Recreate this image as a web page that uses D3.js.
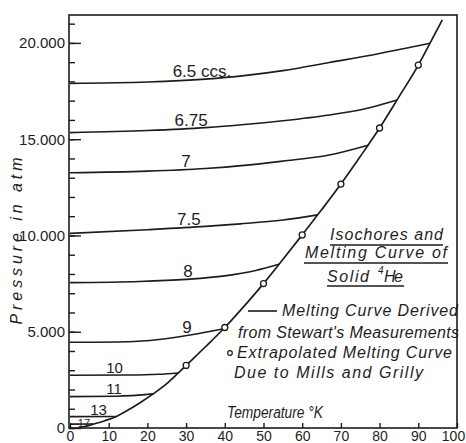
<!DOCTYPE html>
<html>
<head>
<meta charset="utf-8">
<script src="https://cdn.jsdelivr.net/npm/d3@7"></script>
<style>
  html, body { margin: 0; padding: 0; background: #fff; }
  svg { display: block; }
  text { fill: #1e1e1e; font-family: "Liberation Sans", Arial, sans-serif; }
  .ital { font-style: italic; }
</style>
</head>
<body>
<svg id="chart" width="466" height="443"></svg>
<script>
// melting curve (T in K, P in atm)
const meltT = [2, 4, 6, 9, 12, 15, 18, 21.5, 25, 28, 30, 35, 40, 45, 50, 55, 60, 65, 70, 75, 80, 85, 90, 93, 96.2];
const meltP = [0, 90, 200, 380, 600, 930, 1300, 1770, 2300, 2860, 3250, 4220, 5220, 6330, 7500, 8750, 10030, 11330, 12670, 14100, 15580, 17200, 18850, 19980, 21200];

// extrapolated points (Mills and Grilly)
const extraT = [30, 40, 50, 60, 70, 80, 90];
const extraP = [3250, 5220, 7500, 10030, 12670, 15580, 18850];

// isochores, molar volume in ccs
const isoNames = ["6.5 ccs.", "6.75", "7", "7.5", "8", "9", "10", "11", "13", "17"];
const isoT = [
  [0, 20, 35, 45, 55, 67, 80, 93],
  [0, 20, 35, 45, 55, 67, 76, 84.5],
  [0, 20, 35, 45, 55, 67, 77],
  [0, 20, 35, 44, 55, 64],
  [0, 18, 30, 40, 48, 54],
  [0, 15, 23, 31, 39.7],
  [0, 15, 23, 28],
  [0, 12, 21.5],
  [0, 12],
  [0, 6]
];
const isoP = [
  [17900, 17970, 18120, 18300, 18560, 18980, 19450, 19980],
  [15340, 15450, 15600, 15760, 15960, 16260, 16570, 17040],
  [13260, 13340, 13480, 13640, 13860, 14180, 14690],
  [10110, 10300, 10470, 10600, 10800, 11070],
  [7550, 7610, 7720, 7900, 8180, 8500],
  [4450, 4480, 4600, 4830, 5160],
  [2740, 2750, 2790, 2860],
  [1630, 1650, 1770],
  [590, 600],
  [200, 205]
];
// where along each isochore its label sits (K)
const isoLabelT = [34.1, 31.3, 30, 30.7, 30.5, 30.2, 11.5, 11.4, 7.4, 3.6];

const tempTicks = [0, 10, 20, 30, 40, 50, 60, 70, 80, 90, 100];
const pressTicks = [0, 5000, 10000, 15000, 20000];
const pressMinor = d3.range(0, 21001, 1000);

const titleLines = ["Isochores and", "Melting Curve of", "Solid"];
const noteLines = ["Melting Curve Derived", "from Stewart's Measurements", "Extrapolated Melting Curve", "Due to Mills and Grilly"];

const svg = d3.select("#chart");
const ink = "#1c1c1c";

const x = d3.scaleLinear().domain([0, 100]).range([70, 457]);
const y = d3.scaleLinear().domain([0, 21450]).range([428, 15]);

// European thousands separator: 20.000
const fmt = d3.formatLocale({ decimal: ",", thousands: ".", grouping: [3], currency: ["", ""] }).format(",");

// frame
svg.append("rect")
  .attr("x", x(0) - 1).attr("y", y(21450))
  .attr("width", x(100) - x(0) + 1).attr("height", y(0) - y(21450))
  .attr("fill", "none").attr("stroke", ink).attr("stroke-width", 1.6);

// y axis: minor then major ticks pointing inward
svg.append("g")
  .attr("transform", `translate(${x(0) - 1},0)`)
  .call(d3.axisLeft(y).tickValues(pressMinor).tickSize(-6).tickFormat(""))
  .call(g => g.select(".domain").remove())
  .call(g => g.selectAll("line").attr("stroke", ink).attr("stroke-width", 1.4));

svg.append("g")
  .attr("transform", `translate(${x(0) - 1},0)`)
  .call(d3.axisLeft(y).tickValues(pressTicks).tickSize(-12).tickPadding(4).tickFormat(fmt))
  .call(g => g.select(".domain").remove())
  .call(g => g.selectAll("line").attr("stroke", ink).attr("stroke-width", 1.4))
  .call(g => g.selectAll("text")
    .attr("font-size", 15).attr("fill", ink)
    .attr("font-family", "'Liberation Sans', Arial, sans-serif"));

// x axis
svg.append("g")
  .attr("transform", `translate(0,${y(0)})`)
  .call(d3.axisBottom(x).tickValues(tempTicks).tickSize(-5).tickPadding(3).tickFormat(d3.format("d")))
  .call(g => g.select(".domain").remove())
  .call(g => g.selectAll("line").attr("stroke", ink).attr("stroke-width", 1.4))
  .call(g => g.selectAll("text")
    .attr("font-size", 14).attr("fill", ink)
    .attr("font-family", "'Liberation Sans', Arial, sans-serif")
    .attr("dx", d => d === 100 ? -4 : 0));

const line = d3.line()
  .x(d => x(d[0]))
  .y(d => y(d[1]))
  .curve(d3.curveMonotoneX);

// isochores
const isoData = isoNames.map((name, i) => ({
  name: name,
  pts: isoT[i].map((t, j) => [t, isoP[i][j]]),
  labelT: isoLabelT[i]
}));

svg.append("g").selectAll("path")
  .data(isoData)
  .enter().append("path")
  .attr("d", d => line(d.pts))
  .attr("fill", "none").attr("stroke", ink).attr("stroke-width", 1.6);

// labels sit on top of their curve
function pAt(pts, t) {
  for (let k = 1; k < pts.length; k++) {
    if (t <= pts[k][0]) {
      const a = pts[k - 1], b = pts[k];
      return a[1] + (b[1] - a[1]) * (t - a[0]) / (b[0] - a[0]);
    }
  }
  return pts[pts.length - 1][1];
}

svg.append("g").selectAll("text")
  .data(isoData)
  .enter().append("text")
  .attr("x", d => x(d.labelT))
  .attr("y", (d, i) => y(pAt(d.pts, d.labelT)) + (i === 9 ? 3 : -2))
  .attr("text-anchor", "middle")
  .attr("font-size", (d, i) => i < 6 ? 17 : (i < 9 ? 15 : 11))
  .text(d => d.name);

// melting curve
svg.append("path")
  .attr("d", line(meltT.map((t, i) => [t, meltP[i]])))
  .attr("fill", "none").attr("stroke", ink).attr("stroke-width", 1.7);

svg.append("g").selectAll("circle")
  .data(extraT.map((t, i) => [t, extraP[i]]))
  .enter().append("circle")
  .attr("cx", d => x(d[0])).attr("cy", d => y(d[1]))
  .attr("r", 3)
  .attr("fill", "#fff").attr("stroke", ink).attr("stroke-width", 1.3);

// legend title, underlined
const titleBox = [[330, 240, 113], [305, 258, 142], [327, 282, 42]];
const title = svg.append("g").attr("class", "ital").attr("font-size", 16);
titleLines.forEach((t, i) => {
  const b = titleBox[i];
  title.append("text")
    .attr("x", b[0]).attr("y", b[1])
    .attr("textLength", b[2]).attr("lengthAdjust", "spacing")
    .text(t);
});
title.append("text").attr("x", 378).attr("y", 274).attr("font-size", 10).text("4");
title.append("text").attr("x", 384).attr("y", 282).attr("textLength", 19).attr("lengthAdjust", "spacing").text("He");

[[330, 443, 245], [304, 448, 263], [327, 404, 286]].forEach(u => {
  svg.append("line")
    .attr("x1", u[0]).attr("x2", u[1]).attr("y1", u[2]).attr("y2", u[2])
    .attr("stroke", ink).attr("stroke-width", 1.3);
});

// legend notes
const noteBox = [[282, 316, 176], [238, 338, 221], [237, 358, 215], [234, 378, 189]];
const notes = svg.append("g").attr("class", "ital").attr("font-size", 16);
noteLines.forEach((t, i) => {
  const b = noteBox[i];
  notes.append("text")
    .attr("x", b[0]).attr("y", b[1])
    .attr("textLength", b[2]).attr("lengthAdjust", "spacing")
    .text(t);
});
svg.append("line")
  .attr("x1", 248).attr("x2", 277).attr("y1", 311).attr("y2", 311)
  .attr("stroke", ink).attr("stroke-width", 1.6);
svg.append("circle")
  .attr("cx", 230).attr("cy", 353).attr("r", 2.3)
  .attr("fill", "#fff").attr("stroke", ink).attr("stroke-width", 1.2);

// axis titles
svg.append("text")
  .attr("class", "ital").attr("font-size", 16)
  .attr("x", 227).attr("y", 418)
  .attr("textLength", 96).attr("lengthAdjust", "spacingAndGlyphs")
  .text("Temperature °K");

svg.append("text")
  .attr("class", "ital").attr("font-size", 16)
  .attr("transform", "translate(22,241) rotate(-90)")
  .attr("text-anchor", "middle")
  .attr("textLength", 167).attr("lengthAdjust", "spacing")
  .text("Pressure in atm");
</script>
</body>
</html>
